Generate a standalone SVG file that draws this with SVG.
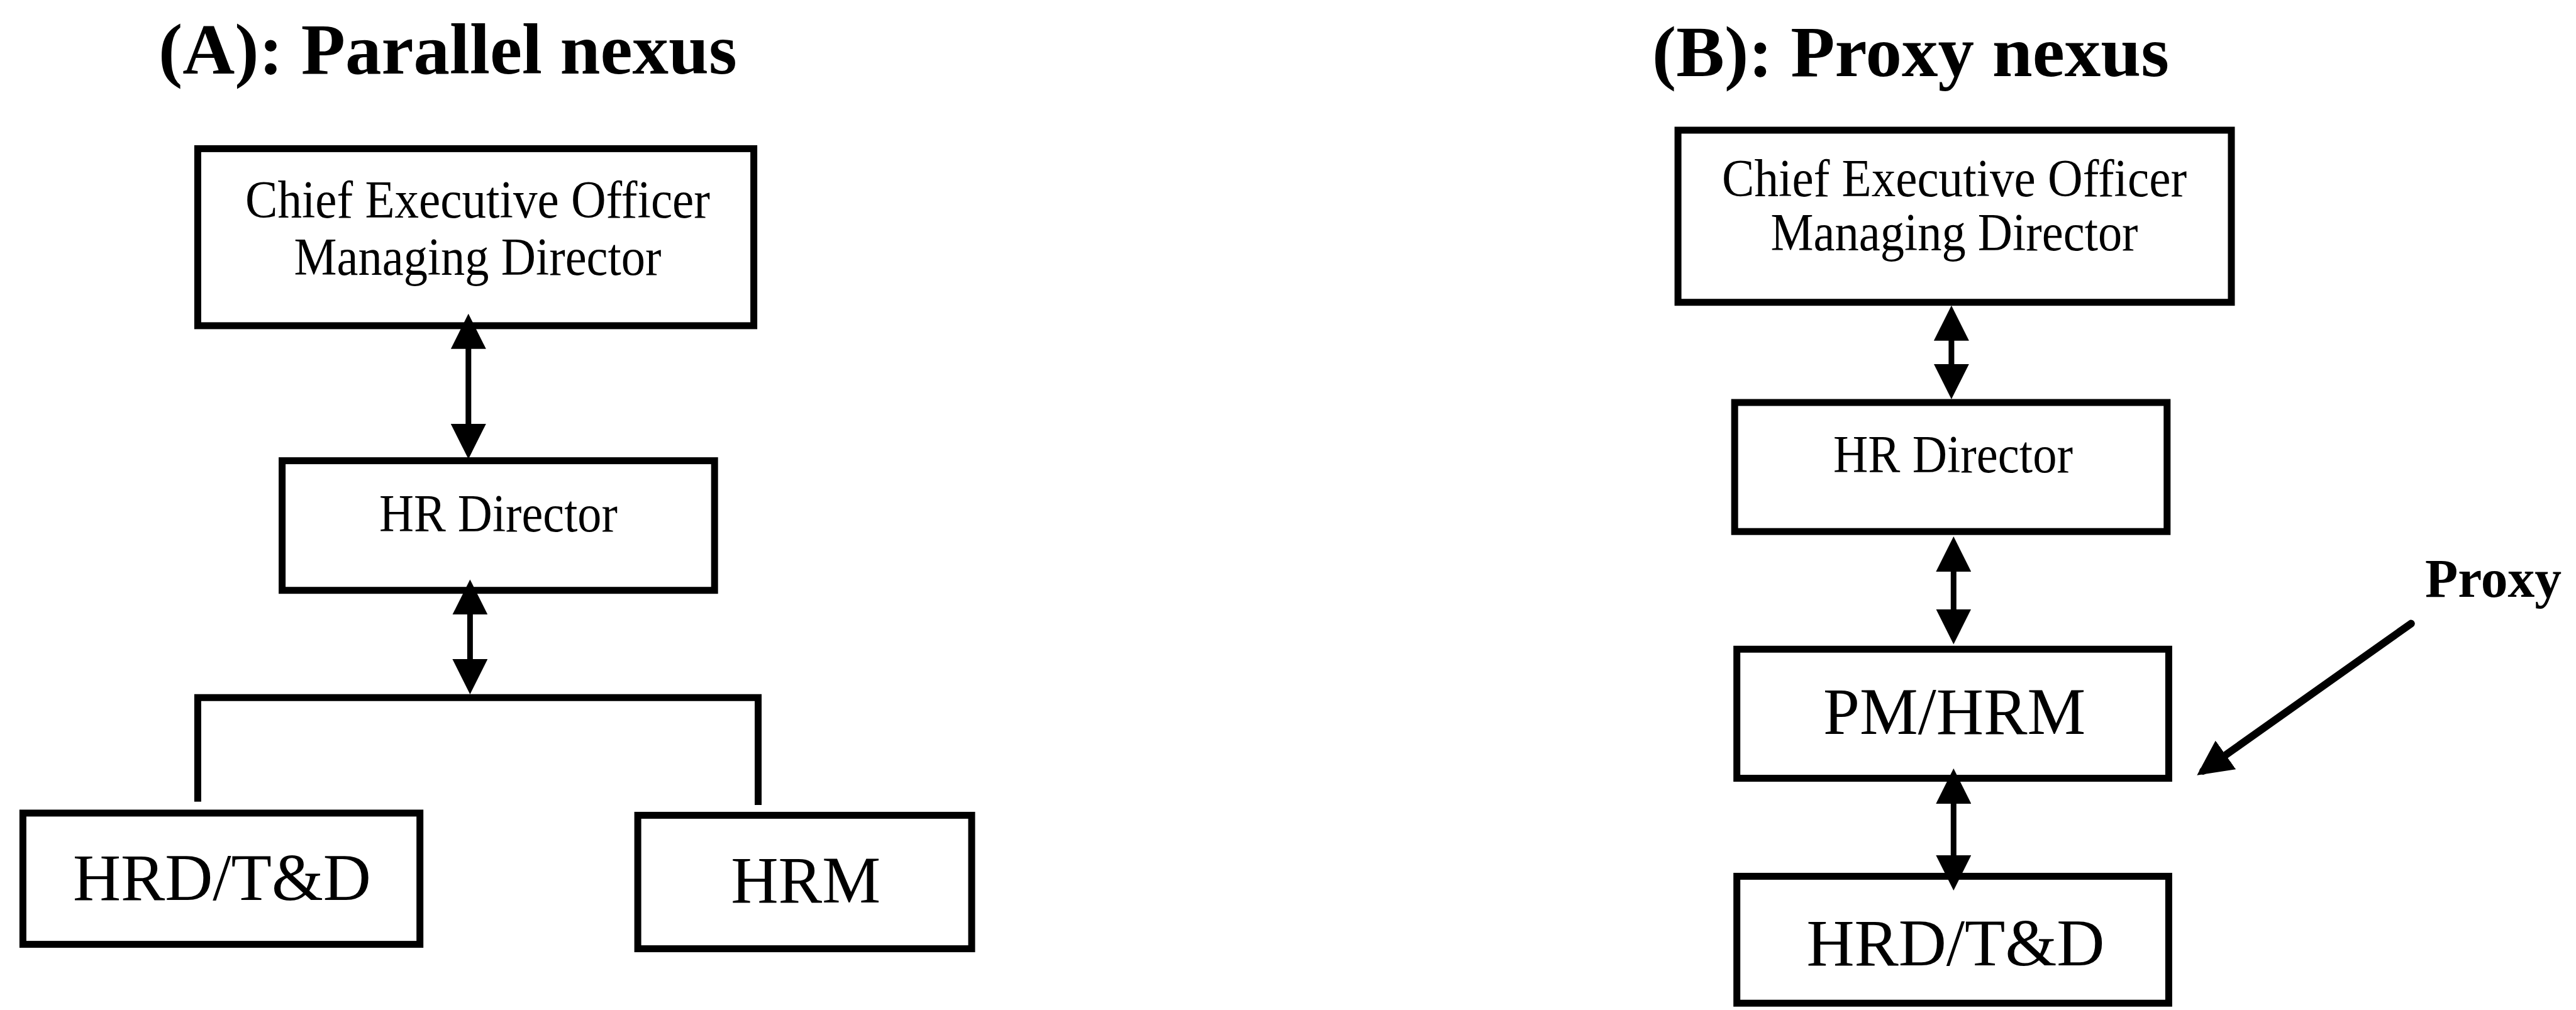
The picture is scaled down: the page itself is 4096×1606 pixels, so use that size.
<svg xmlns="http://www.w3.org/2000/svg" width="4096" height="1606" viewBox="0 0 4096 1606">
  <style>
    .box { fill: #ffffff; stroke: #000000; stroke-width: 11; }
    .lbl { font-family: "Liberation Serif", "Times New Roman", serif; fill: #000000; text-anchor: middle; }
    .small { font-size: 84px; }
    .big { font-size: 106px; }
    .title { font-family: "Liberation Serif", "Times New Roman", serif; font-weight: bold; font-size: 115px; fill: #000000; }
    .note { font-family: "Liberation Serif", "Times New Roman", serif; font-weight: bold; font-size: 86px; fill: #000000; }
    .link { fill: none; stroke: #000000; stroke-width: 9; }
    .both { marker-start: url(#head); marker-end: url(#head); }
    .bracket { fill: none; stroke: #000000; stroke-width: 11; stroke-linejoin: miter; }
    .pointer { fill: none; stroke: #000000; stroke-width: 12; stroke-linecap: round; marker-end: url(#head); }
  </style>
  <defs>
    <!-- solid triangular arrowhead shared by every connector -->
    <marker id="head" markerUnits="userSpaceOnUse" markerWidth="56" markerHeight="56" refX="44" refY="28" orient="auto-start-reverse" viewBox="0 0 56 56">
      <path d="M0,0 L56,28 L0,56 Z" fill="#000000"/>
    </marker>
  </defs>

  <rect width="4096" height="1606" fill="#ffffff"/>

  <!-- Panel titles -->
  <text class="title" x="252" y="117">(A): Parallel nexus</text>
  <text class="title" x="2627" y="121">(B): Proxy nexus</text>

  <!-- Panel A: parallel nexus -->
  <g id="a-ceo">
    <rect class="box" x="314.4" y="236.4" width="884.2" height="281.5"/>
    <text class="lbl small" x="759.5" y="346.4" textLength="739" lengthAdjust="spacingAndGlyphs">Chief Executive Officer</text>
    <text class="lbl small" x="759.5" y="436.5" textLength="584" lengthAdjust="spacingAndGlyphs">Managing Director</text>
  </g>
  <g id="a-hr-director">
    <rect class="box" x="448.6" y="732.6" width="687.6" height="206.1"/>
    <text class="lbl small" x="792.4" y="845.2" textLength="379" lengthAdjust="spacingAndGlyphs">HR Director</text>
  </g>
  <g id="a-hrd">
    <rect class="box" x="36.4" y="1292.9" width="631.3" height="208.7"/>
    <text class="lbl big" x="352.9" y="1430.6" textLength="474" lengthAdjust="spacingAndGlyphs">HRD/T&amp;D</text>
  </g>
  <g id="a-hrm">
    <rect class="box" x="1014.1" y="1296.4" width="530.9" height="212.2"/>
    <text class="lbl big" x="1281.2" y="1435" textLength="238" lengthAdjust="spacingAndGlyphs">HRM</text>
  </g>

  <!-- Panel B: proxy nexus -->
  <g id="b-ceo">
    <rect class="box" x="2668.1" y="207" width="879.9" height="273.7"/>
    <text class="lbl small" x="3107.6" y="311.8" textLength="739" lengthAdjust="spacingAndGlyphs">Chief Executive Officer</text>
    <text class="lbl small" x="3107.6" y="397.5" textLength="584" lengthAdjust="spacingAndGlyphs">Managing Director</text>
  </g>
  <g id="b-hr-director">
    <rect class="box" x="2758.2" y="640" width="687.6" height="205.2"/>
    <text class="lbl small" x="3105.5" y="750.8" textLength="381" lengthAdjust="spacingAndGlyphs">HR Director</text>
  </g>
  <g id="b-pm-hrm">
    <rect class="box" x="2761.7" y="1032.3" width="686.7" height="205.2"/>
    <text class="lbl big" x="3107.6" y="1166.5" textLength="417" lengthAdjust="spacingAndGlyphs">PM/HRM</text>
  </g>
  <g id="b-hrd">
    <rect class="box" x="2761.7" y="1393.4" width="686.7" height="201.8"/>
    <text class="lbl big" x="3109.4" y="1535.4" textLength="474" lengthAdjust="spacingAndGlyphs">HRD/T&amp;D</text>
  </g>
  <g id="b-proxy-label">
    <text class="note" x="3856" y="949" textLength="217" lengthAdjust="spacingAndGlyphs">Proxy</text>
  </g>

  <!-- Connectors -->
  <g id="connectors">
    <line class="link both" x1="744.8" y1="510.8" x2="744.8" y2="718"/>
    <line class="link both" x1="747.4" y1="933.4" x2="747.4" y2="1092"/>
    <path class="bracket" d="M314.4,1274.8 V1109.3 H1205.5 V1280"/>

    <line class="link both" x1="3102.9" y1="497.8" x2="3102.9" y2="622.8"/>
    <line class="link both" x1="3106.3" y1="865" x2="3106.3" y2="1012.5"/>
    <line class="link both" x1="3106.3" y1="1233.9" x2="3106.3" y2="1404"/>

    <line class="pointer" x1="3833.8" y1="991.6" x2="3503.1" y2="1225.9"/>
  </g>
</svg>
